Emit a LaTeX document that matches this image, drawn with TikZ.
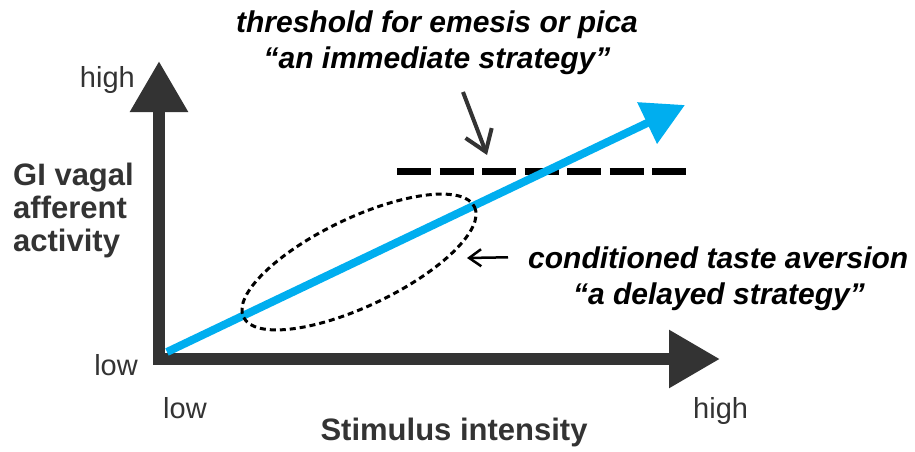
\documentclass[tikz,border=0pt]{standalone}
\usepackage{fontspec}
\setmainfont{Liberation Sans}
\usetikzlibrary{arrows.meta}
\definecolor{axisgray}{HTML}{333333}
\definecolor{signalblue}{RGB}{0,174,239}

\begin{document}
\begin{tikzpicture}[x=1pt, y=-1pt]
    \tikzset{
        axis/.style={
            draw=axisgray, line width=12pt, miter limit=10,
            {Triangle[length=51pt, width=55pt]}-{Triangle[length=51pt, width=55pt]}
        },
        signal/.style={
            draw=signalblue, line width=8pt,
            -{Triangle[length=42pt, width=44pt]}
        },
        threshold/.style={
            draw=black, line width=7pt,
            dash pattern=on 34pt off 8.5pt
        },
        zone/.style={
            draw=black, line width=3pt,
            dash pattern=on 6pt off 4pt
        },
        pointer/.style={
            draw=axisgray, line width=4pt,
            -{Straight Barb[length=20pt, width=28pt]}
        },
        thinpointer/.style={
            draw=black, line width=2.5pt,
            -{Straight Barb[length=12pt, width=17pt]}
        },
        lbl/.style={
            font=\fontsize{29}{33}\selectfont,
            text=axisgray, inner sep=0pt
        },
        lblbold/.style={
            font=\fontsize{31}{33}\selectfont\bfseries,
            text=axisgray, inner sep=0pt
        },
        note/.style={
            font=\fontsize{30}{34}\selectfont\bfseries\itshape,
            inner sep=0pt
        },
    }

    \useasboundingbox (0,0) rectangle (915,452);

    % ==== Axes ====
    \coordinate (origin) at (159,359);
    \coordinate (ytip) at (159,61);
    \coordinate (xtip) at (720,359);
    \draw[axis] (ytip) -- (origin) -- (xtip);

    % ==== Threshold line ====
    \coordinate (thrL) at (397,171);
    \coordinate (thrR) at (686,171);
    \draw[threshold] (thrL) -- (thrR);

    % ==== Response line 
    \coordinate (sigstart) at (167,352);
    \coordinate (sigtip) at (685,105);
    \draw[signal] (sigstart) -- (sigtip);

    % ==== Aversion zone ====
    \coordinate (zonecenter) at (359,262);
    \draw[zone] (zonecenter) ellipse[x radius=128, y radius=44, rotate=25.5];

    % ==== Axis labels ====
    \node[lbl, anchor=base east] (yhigh) at (135,87) {high};
    \node[lbl, anchor=base east] (ylow) at (138,375) {low};
    \node[lbl, anchor=base west] (xlow) at (163,418) {low};
    \node[lbl, anchor=base west] (xhigh) at (693,418) {high};
    \node[lblbold, anchor=north west, align=left] (ytitle) at (13,163)
        {GI vagal\\afferent\\activity};
    \node[lblbold, anchor=base] (xtitle) at (454,440) {Stimulus intensity};

    % ==== Strategy notes ====
    \node[note, anchor=base] (thr1) at (437,33) {threshold for emesis or pica};
    \node[note, anchor=base] (thr2) at (437,68) {“an immediate strategy”};
    \node[note, anchor=base west] (cta1) at (528,268) {conditioned taste aversion};
    \node[note, anchor=base] (cta2) at (719,304) {“a delayed strategy”};

    \coordinate (thrfrom) at (463,92);
    \coordinate (thrto) at (487,155);
    \draw[pointer] (thrfrom) -- (thrto);
    \coordinate (ctatip) at (467,258);
    \draw[thinpointer] ([xshift=-20pt]cta1.west) -- (ctatip);
\end{tikzpicture}
\end{document}
